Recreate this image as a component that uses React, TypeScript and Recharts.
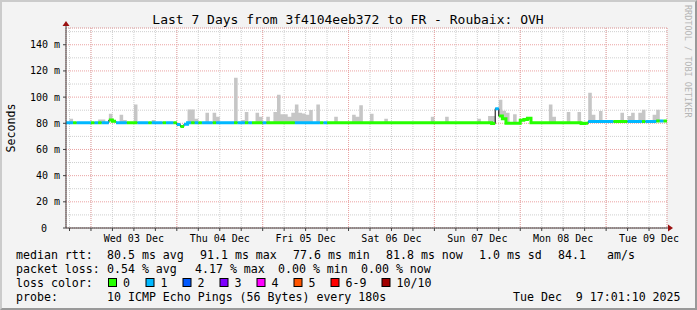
import React from "react";
import { ComposedChart, Area, Line, XAxis, YAxis, CartesianGrid, ReferenceDot } from "recharts";

const MONO = "'DejaVu Sans Mono', monospace";
const TITLE = "Last 7 Days from 3f4104eeb372 to FR - Roubaix: OVH";

// hours relative to Wed 03 Dec 00:00; graph runs Tue 02 Dec 17:01 -> Tue 09 Dec 17:01
const START_HOUR = -7;
const X_DOMAIN: [number, number] = [-6.98, 161.02];
const Y_DOMAIN: [number, number] = [0, 152.8];

const dayLabels = ["Wed 03 Dec", "Thu 04 Dec", "Fri 05 Dec", "Sat 06 Dec", "Sun 07 Dec", "Mon 08 Dec", "Tue 09 Dec"];
const yTicks = [0, 20, 40, 60, 80, 100, 120, 140];

// hourly median rtt (ms), one row per 24 hours starting at Tue 17:00
const median = [
  80.4, 80.4, 80.4, 80.4, 80.4, 80.4, 80.4, 80.4, 80.4, 80.4, 80.4, 80.4, 82.5, 81.6, 80.4, 80.4, 80.4, 80.4, 80.4, 80.4, 80.4, 80.4, 80.4, 80.4,
  80.4, 80.4, 80.4, 80.4, 80.4, 80.4, 80.4, 79.0, 77.6, 79.3, 80.4, 80.4, 80.4, 80.4, 80.4, 80.4, 80.4, 80.4, 80.4, 80.4, 80.4, 80.4, 80.4, 80.4,
  80.4, 80.4, 80.4, 80.4, 80.4, 80.4, 80.4, 80.4, 80.4, 80.4, 80.4, 80.4, 80.4, 80.4, 80.4, 80.4, 80.4, 80.4, 80.4, 80.4, 80.4, 80.4, 80.4, 80.4,
  80.4, 80.4, 80.4, 80.4, 80.4, 80.4, 80.4, 80.4, 80.4, 80.4, 80.4, 80.4, 80.4, 80.4, 80.4, 80.4, 80.4, 80.4, 80.4, 80.4, 80.4, 80.4, 80.4, 80.4,
  80.4, 80.4, 80.4, 80.4, 80.4, 80.4, 80.4, 80.4, 80.4, 80.4, 80.4, 80.4, 80.4, 80.4, 80.4, 80.4, 80.4, 80.4, 80.4, 80.4, 80.4, 80.4, 80.4, 79.8,
  91.1, 85.5, 83.5, 80.0, 80.0, 80.0, 80.0, 82.3, 82.8, 83.8, 80.4, 80.4, 80.4, 80.4, 80.4, 80.4, 80.4, 80.4, 80.4, 80.4, 80.4, 80.4, 80.4, 80.4,
  79.9, 80.0, 81.4, 81.4, 81.4, 81.4, 81.4, 81.4, 81.4, 81.4, 81.4, 81.4, 81.4, 81.4, 81.4, 81.4, 81.4, 81.4, 81.4, 81.4, 81.4, 81.8, 81.8, 81.8,
];

// lost pings out of 10 for each hour
const loss = [
  1, 1, 0, 1, 1, 1, 1, 0, 1, 0, 1, 1, 0, 0, 1, 1, 1, 0, 0, 0, 1, 1, 1, 0,
  1, 1, 1, 0, 1, 1, 0, 1, 0, 1, 1, 0, 1, 0, 1, 1, 1, 0, 1, 1, 1, 1, 1, 0,
  1, 1, 0, 1, 0, 0, 0, 1, 0, 0, 0, 0, 0, 0, 0, 0, 1, 1, 1, 1, 1, 1, 1, 0,
  1, 0, 0, 0, 0, 0, 0, 0, 0, 0, 0, 0, 0, 0, 0, 0, 0, 0, 0, 0, 0, 0, 0, 0,
  0, 0, 0, 0, 0, 0, 0, 0, 0, 0, 0, 0, 0, 0, 0, 0, 0, 0, 0, 0, 0, 0, 0, 0,
  1, 0, 0, 0, 0, 0, 0, 0, 0, 0, 0, 0, 0, 0, 0, 0, 0, 0, 0, 0, 0, 0, 0, 0,
  0, 0, 1, 1, 1, 1, 1, 1, 1, 0, 0, 0, 0, 1, 1, 1, 1, 0, 1, 1, 1, 0, 1, 0,
];

// top of the smoke (slowest ping) per hour, null = no visible smoke
const smokeTop: (number | null)[] = [
  null, 83.4, null, null, null, null, null, null, null, 82.8, 82.8, null, 87.2, null, null, 86.5, 82.6, null, null, 94.3, null, null, null, null,
  82.6, null, null, null, null, null, null, null, null, null, 90.5, 90.5, 83.4, null, null, 88, null, 88, 85, null, null, null, null, 114.8,
  null, 82.6, 88.7, null, null, 88, 85, null, 85, null, 88.7, 101.8, 87, 87, 85, 88, 94.3, 88, 87.5, 86.5, 90.2, null, 94.3, null,
  null, null, null, 85, null, null, null, null, 86.5, 85, 93.8, null, null, 87.2, null, null, null, 83.4, null, null, null, null, null, null,
  null, null, null, null, null, null, 84.9, null, null, null, 85, null, null, null, null, null, null, null, null, 83.4, null, null, 85.5, 85.5,
  null, 97.9, 89.5, 88, null, 87, null, null, null, null, null, null, null, null, null, 94.3, 85, null, null, null, 88.7, null, null, 88.7,
  null, null, 103.3, 86.5, null, 89.4, null, null, null, null, null, 88, null, 85.5, 88, null, 88, 90.4, null, null, 86.5, 90.4, null, null,
];

const lossColors = [
  { label: "0", color: "#26ff00" },
  { label: "1", color: "#00b8ff" },
  { label: "2", color: "#0059ff" },
  { label: "3", color: "#7e00ff" },
  { label: "4", color: "#ff00ff" },
  { label: "5", color: "#ff5500" },
  { label: "6-9", color: "#ff0000" },
  { label: "10/10", color: "#a10000" },
];

const rttStats = ["80.5 ms avg", "91.1 ms max", "77.6 ms min", "81.8 ms now", "1.0 ms sd", "84.1", "am/s"];
const lossStats = ["0.54 % avg", "4.17 % max", "0.00 % min", "0.00 % now"];
const probeText = "10 ICMP Echo Pings (56 Bytes) every 180s";
const stampText = "Tue Dec  9 17:01:10 2025";

// layout of the legend block (pixels)
const rttX = [107, 200, 293, 386, 479, 558, 607];
const lossX = [107, 195, 278, 361];
const boxX = [108, 145.5, 182.5, 219.5, 256.5, 293.5, 330.5, 381.5];
const rowY = [254.5, 268.5, 282.5, 296.5];

const sixHourTicks = Array.from({ length: 28 }, (_, k) => -6 + 6 * k);
const midnightTicks = Array.from({ length: 7 }, (_, k) => 24 * k);
const minorYTicks = Array.from({ length: 31 }, (_, k) => 5 * k);

// each hourly sample becomes a flat step: a row at its start and one at its end
type Row = Record<string, number | number[] | null>;
const rows: Row[] = [];
median.forEach((m, i) => {
  const h = START_HOUR + i;
  const top = smokeTop[i] ?? m;
  [h, h + 1].forEach((x) => {
    const row: Row = { h: x, median: m, smoke: [m, top] };
    lossColors.forEach((_, c) => {
      row[`l${c}`] = loss[i] === c ? m : null;
    });
    rows.push(row);
  });
});

const XTick = (props: any) => {
  const { x, y, payload } = props;
  const v = payload.value;
  if (((v % 24) + 24) % 24 !== 12) return <g />;
  return (
    <text x={x} y={y + 5} textAnchor="middle" dominantBaseline="central" fontSize={10} fontFamily={MONO} fill="#000">
      {dayLabels[(v - 12) / 24]}
    </text>
  );
};

const YTick = (props: any) => {
  const { x, y, payload } = props;
  const v = payload.value;
  return (
    <text x={v === 0 ? x - 13 : x} y={y} textAnchor="end" dominantBaseline="central" fontSize={10} fontFamily={MONO} fill="#000">
      {v === 0 ? "0" : `${v} m`}
    </text>
  );
};

const UpArrow = (p: any) => (
  <g>
    <line x1={p.cx} y1={p.cy} x2={p.cx} y2={p.cy - 3} stroke="#404040" />
    <path d={`M${p.cx - 3.5},${p.cy - 2}L${p.cx + 3.5},${p.cy - 2}L${p.cx},${p.cy - 7}Z`} fill="#9a1010" />
  </g>
);

const RightArrow = (p: any) => (
  <g>
    <line x1={p.cx} y1={p.cy} x2={p.cx + 2} y2={p.cy} stroke="#404040" />
    <path d={`M${p.cx + 1},${p.cy - 3.5}L${p.cx + 1},${p.cy + 3.5}L${p.cx + 6},${p.cy}Z`} fill="#9a1010" />
  </g>
);

const App: React.FC = () => {
  return (
    <div style={{ position: "relative", width: 697, height: 310, background: "#f3f3f3", fontFamily: MONO }}>
      <style>{"body{margin:0}"}</style>
      <div style={{ position: "absolute", left: 0, top: 0 }}>
        <ComposedChart width={697} height={310} data={rows} margin={{ top: 28, right: 30, bottom: 62, left: 6 }}>
          <XAxis xAxisId="days" dataKey="h" type="number" domain={X_DOMAIN} allowDataOverflow ticks={midnightTicks} height={0} hide />
          <XAxis
            xAxisId="t"
            dataKey="h"
            type="number"
            domain={X_DOMAIN}
            allowDataOverflow
            ticks={sixHourTicks}
            interval={0}
            tick={<XTick />}
            tickSize={3}
            tickLine={{ stroke: "#404040" }}
            axisLine={{ stroke: "#404040" }}
            height={20}
          />
          <YAxis yAxisId="minor" type="number" domain={Y_DOMAIN} allowDataOverflow ticks={minorYTicks} width={0} hide />
          <YAxis
            yAxisId="v"
            type="number"
            domain={Y_DOMAIN}
            allowDataOverflow
            ticks={yTicks}
            interval={0}
            tick={<YTick />}
            tickSize={3}
            tickMargin={3}
            tickLine={{ stroke: "#404040" }}
            axisLine={{ stroke: "#404040" }}
            width={60}
          />
          <CartesianGrid xAxisId="t" yAxisId="minor" fill="#ffffff" stroke="#cfcfcf" strokeDasharray="1 1" />
          <CartesianGrid xAxisId="days" yAxisId="v" stroke="#eba3a3" strokeDasharray="1 1" />
          <Area
            xAxisId="t"
            yAxisId="v"
            dataKey="smoke"
            type="linear"
            fill="#c6c6c6"
            fillOpacity={1}
            stroke="none"
            isAnimationActive={false}
          />
          <Line xAxisId="t" yAxisId="v" dataKey="median" type="linear" stroke="#000" strokeWidth={1} dot={false} activeDot={false} isAnimationActive={false} />
          {lossColors.map((lc, c) => (
            <Line
              key={lc.label}
              xAxisId="t"
              yAxisId="v"
              dataKey={`l${c}`}
              type="linear"
              stroke={lc.color}
              strokeWidth={3}
              strokeLinecap="butt"
              dot={false}
              activeDot={false}
              connectNulls={false}
              isAnimationActive={false}
            />
          ))}
          <ReferenceDot xAxisId="t" yAxisId="v" x={X_DOMAIN[0]} y={Y_DOMAIN[1]} ifOverflow="visible" shape={UpArrow} />
          <ReferenceDot xAxisId="t" yAxisId="v" x={X_DOMAIN[1]} y={Y_DOMAIN[0]} ifOverflow="visible" shape={RightArrow} />
        </ComposedChart>
      </div>
      <svg width={697} height={310} style={{ position: "absolute", left: 0, top: 0, pointerEvents: "none" }} fontFamily={MONO}>
        <text x={348} y={19} textAnchor="middle" dominantBaseline="central" fontSize={13} fill="#000">
          {TITLE}
        </text>
        <text transform="translate(11,128) rotate(-90)" textAnchor="middle" dominantBaseline="central" fontSize={11.6} fill="#000">
          Seconds
        </text>
        <text transform="translate(687.5,5) rotate(90)" dominantBaseline="central" fontSize={8.5} fill="#b5b5b5">
          RRDTOOL / TOBI OETIKER
        </text>
        <g fontSize={11.6} fill="#000" dominantBaseline="central">
          <text x={16} y={rowY[0]}>median rtt:</text>
          {rttStats.map((s, i) => (
            <text key={s} x={rttX[i]} y={rowY[0]}>{s}</text>
          ))}
          <text x={16} y={rowY[1]}>packet loss:</text>
          {lossStats.map((s, i) => (
            <text key={s + i} x={lossX[i]} y={rowY[1]}>{s}</text>
          ))}
          <text x={16} y={rowY[2]}>loss color:</text>
          {lossColors.map((lc, i) => (
            <g key={lc.label}>
              <rect x={boxX[i] + 0.5} y={rowY[2] - 4} width={8} height={8} fill={lc.color} stroke="#000" strokeWidth={1} />
              <text x={boxX[i] + 15} y={rowY[2]}>{lc.label}</text>
            </g>
          ))}
          <text x={16} y={rowY[3]}>probe:</text>
          <text x={107} y={rowY[3]}>{probeText}</text>
          <text x={513} y={rowY[3]} xmlSpace="preserve" style={{ whiteSpace: "pre" }}>{stampText}</text>
        </g>
      </svg>
      <div
        style={{
          position: "absolute",
          left: 0,
          top: 0,
          width: 697,
          height: 310,
          boxSizing: "border-box",
          borderTop: "2px solid #cbcbcb",
          borderLeft: "2px solid #cbcbcb",
          borderRight: "2px solid #999999",
          borderBottom: "2px solid #999999",
          pointerEvents: "none",
        }}
      />
    </div>
  );
};

export default App;
